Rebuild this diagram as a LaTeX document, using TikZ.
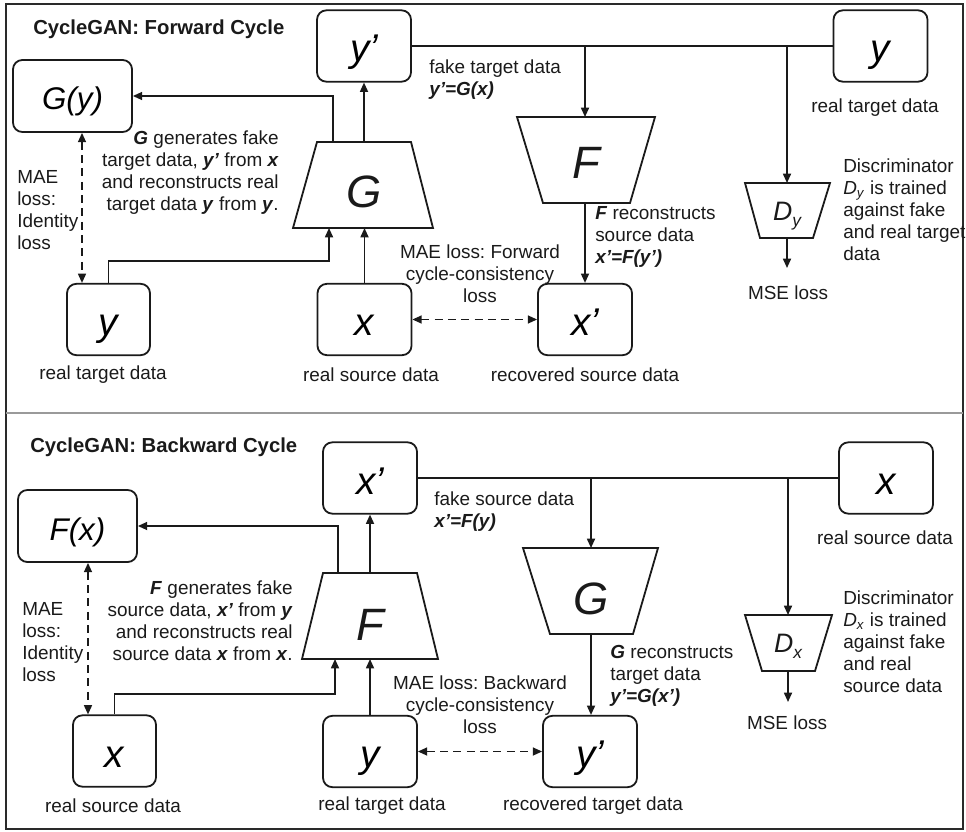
\documentclass[tikz,border=0pt]{standalone}
\usepackage{fontspec}
\setmainfont{Liberation Sans}
\usetikzlibrary{arrows.meta,calc}
\definecolor{ln}{HTML}{1A1A1A}
\definecolor{framec}{HTML}{2A2A2A}
\definecolor{sepc}{HTML}{9A9A9A}
\frenchspacing
\begin{document}
\begin{tikzpicture}[x=0.75pt,y=-0.75pt,
 box/.style={draw=ln, line width=1.35pt, rounded corners=7pt, inner sep=0pt},
 boxW/.style={box, minimum width=89.25pt, minimum height=54pt, font=\fontsize{23.5}{28}\selectfont\itshape, text height=21pt, text depth=0pt},
 boxM/.style={box, minimum width=70.5pt, minimum height=53.5pt, font=\fontsize{29}{34}\selectfont\itshape, text height=24pt, text depth=0pt},
 boxN/.style={box, minimum width=62.25pt, minimum height=53.5pt, font=\fontsize{29}{34}\selectfont\itshape, text height=24pt, text depth=0pt},
 trap/.style={draw=ln, line width=1.35pt, line join=miter},
 arr/.style={draw=ln, line width=1.25pt, -{Triangle[length=7pt,width=6pt]}},
 darr/.style={draw=ln, line width=1.25pt, dash pattern=on 6pt off 4pt, {Triangle[length=7pt,width=6pt]}-{Triangle[length=7pt,width=6pt]}},
 plainln/.style={draw=ln, line width=1.25pt},
 lbl/.style={font=\fontsize{14.2}{16.5}\selectfont, inner sep=0pt, text=ln},
 ttl/.style={font=\fontsize{15.2}{18}\selectfont\bfseries, inner sep=0pt, anchor=west, text=ln},
 trapletter/.style={font=\fontsize{34}{40}\selectfont\itshape, inner sep=0pt, anchor=base, text=ln},
 dletter/.style={inner sep=0pt, anchor=base, text=ln},
]
\useasboundingbox (0,0) rectangle (966,831);
\draw[line width=1.4pt, draw=framec] (6,4) rectangle (963,829);
\draw[line width=1.2pt, draw=sepc] (6,413) -- (963,413);

% ================= Forward cycle =================
\node[ttl] (t1) at (33,29) {CycleGAN: Forward Cycle};
\node[boxW] (Gy) at (72.5,96) {G(y)};
\node[boxM] (yp) at (364,46) {y’};
\node[boxM] (ytr) at (880.5,46) {y};
\node[boxN] (ybl) at (108.5,319.5) {y};
\node[boxM] (xs) at (364.5,319.5) {x};
\node[boxM] (xp) at (585,319.5) {x’};

% G trapezoid
\draw[trap] (317,142) -- (411,142) -- (433,228) -- (293,228) -- cycle;
\node[trapletter] (G1) at (364,207) {G};
\coordinate (G1tl) at (333,142);
\coordinate (G1tm) at (364,142);
\coordinate (G1bl) at (329,228);
\coordinate (G1bm) at (364,228);
\coordinate (k1) at (329,261);

% F trapezoid
\draw[trap] (517,117) -- (655,117) -- (630,203) -- (543,203) -- cycle;
\node[trapletter] (F1) at (586,178) {F};
\coordinate (F1t) at (585,117);
\coordinate (F1b) at (585,203);

% Dy trapezoid
\draw[trap] (745,183) -- (830,183) -- (813,238) -- (760,238) -- cycle;
\node[dletter] (Dy) at (787,220) {\fontsize{20}{24}\selectfont\itshape D\raisebox{-5pt}{\fontsize{13}{15}\selectfont y}};
\coordinate (Dyt) at (787,183);
\coordinate (Dyb) at (787,238);
\coordinate (mse1) at (787,268);

% connectors
\draw[arr] (G1tl) |- (Gy.east);
\draw[arr] (G1tm) -- (yp.south);
\draw[arr] (xs.north) -- (xs.north |- G1bm);
\draw[arr] (ybl.north) |- (k1) -- (G1bl);
\coordinate (d0) at ($(Gy.south)+(9.5,0)$);
\draw[darr] (d0) -- (d0 |- ybl.north);
\draw[plainln] (yp.east) -- (ytr.west);
\draw[arr] (F1t |- yp.east) -- (F1t);
\draw[arr] (F1b) -- (F1b |- xp.north);
\draw[darr] (xs.east) -- (xp.west);
\draw[arr] (Dyt |- ytr.west) -- (Dyt);
\draw[arr] (Dyb) -- (mse1);

% labels
\node[lbl, align=right, anchor=east] (l1) at (279,173) {\textbf{\textit{G}} generates fake\\target data, \textbf{\textit{y’}} from \textbf{\textit{x}}\\and reconstructs real\\target data \textbf{\textit{y}} from \textbf{\textit{y}}.};
\node[lbl, align=left, anchor=west] (l2) at (17,210.5) {MAE\\loss:\\Identity\\loss};
\node[lbl, align=left, anchor=west] (l3) at (429,80) {fake target data\\\textbf{\textit{y’=G(x)}}};
\node[lbl, align=left, anchor=west] (l4) at (595,236.5) {\textbf{\textit{F}} reconstructs\\source data\\\textbf{\textit{x’=F(y’)}}};
\node[lbl, align=center] (l5) at (480,274) {MAE loss: Forward\\cycle-consistency\\loss};
\node[lbl] (l6) at (103,375) {real target data};
\node[lbl] (l7) at (371,375) {real source data};
\node[lbl] (l8) at (585,375) {recovered source data};
\node[lbl] (l9) at (875,108) {real target data};
\node[lbl] (l10) at (788,293) {MSE loss};
\node[lbl, align=left, anchor=west] (l11) at (843,209.4) {Discriminator\\\textit{D}\textsubscript{\textit{y}} is trained\\against fake\\and real target\\data};

% ================= Backward cycle =================
\node[ttl] (t2) at (30,447) {CycleGAN: Backward Cycle};
\node[boxW] (Fx) at (77.5,526) {F(x)};
\node[boxM] (xp2) at (370,478) {x’};
\node[boxM] (xtr) at (886,478) {x};
\node[boxN] (xbl) at (114.5,751) {x};
\node[boxM] (yb) at (370,751.5) {y};
\node[boxM] (yp2) at (590,751.5) {y’};

% F trapezoid
\draw[trap] (323,573) -- (417,573) -- (438,659) -- (302,659) -- cycle;
\node[trapletter] (F2) at (370,640) {F};
\coordinate (F2tl) at (338,573);
\coordinate (F2tm) at (370,573);
\coordinate (F2bl) at (335,659);
\coordinate (F2bm) at (370,659);
\coordinate (k2) at (335,694);

% G trapezoid
\draw[trap] (523,548) -- (658,548) -- (633,634) -- (550,634) -- cycle;
\node[trapletter] (G2) at (591,614) {G};
\coordinate (G2t) at (591,548);
\coordinate (G2b) at (591,634);

% Dx trapezoid
\draw[trap] (745,615) -- (832,615) -- (815,671) -- (762,671) -- cycle;
\node[dletter] (Dx) at (788,652) {\fontsize{20}{24}\selectfont\itshape D\raisebox{-5pt}{\fontsize{13}{15}\selectfont x}};
\coordinate (Dxt) at (788,615);
\coordinate (Dxb) at (788,671);
\coordinate (mse2) at (788,702);

% connectors
\draw[arr] (F2tl) |- (Fx.east);
\draw[arr] (F2tm) -- (xp2.south);
\draw[arr] (yb.north) -- (yb.north |- F2bm);
\draw[arr] (xbl.north) |- (k2) -- (F2bl);
\coordinate (d1) at ($(Fx.south)+(10.5,0)$);
\draw[darr] (d1) -- (d1 |- xbl.north);
\draw[plainln] (xp2.east) -- (xtr.west);
\draw[arr] (G2t |- xp2.east) -- (G2t);
\draw[arr] (G2b) -- (G2b |- yp2.north);
\draw[darr] (yb.east) -- (yp2.west);
\draw[arr] (Dxt |- xtr.west) -- (Dxt);
\draw[arr] (Dxb) -- (mse2);

% labels
\node[lbl, align=right, anchor=east] (m1) at (293,620.5) {\textbf{\textit{F}} generates fake\\source data, \textbf{\textit{x’}} from \textbf{\textit{y}}\\and reconstructs real\\source data \textbf{\textit{x}} from \textbf{\textit{x}}.};
\node[lbl, align=left, anchor=west] (m2) at (22,641.75) {MAE\\loss:\\Identity\\loss};
\node[lbl, align=left, anchor=west] (m3) at (434,511.5) {fake source data\\\textbf{\textit{x’=F(y)}}};
\node[lbl, align=left, anchor=west] (m4) at (610,675.7) {\textbf{\textit{G}} reconstructs\\target data\\\textbf{\textit{y’=G(x’)}}};
\node[lbl, align=center] (m5) at (480,705) {MAE loss: Backward\\cycle-consistency\\loss};
\node[lbl] (m6) at (113,806) {real source data};
\node[lbl] (m7) at (382,806) {real target data};
\node[lbl] (m8) at (593,806) {recovered target data};
\node[lbl] (m9) at (885,538) {real source data};
\node[lbl] (m10) at (787,723) {MSE loss};
\node[lbl, align=left, anchor=west] (m11) at (843,641.4) {Discriminator\\\textit{D}\textsubscript{\textit{x}} is trained\\against fake\\and real\\source data};
\end{tikzpicture}
\end{document}
